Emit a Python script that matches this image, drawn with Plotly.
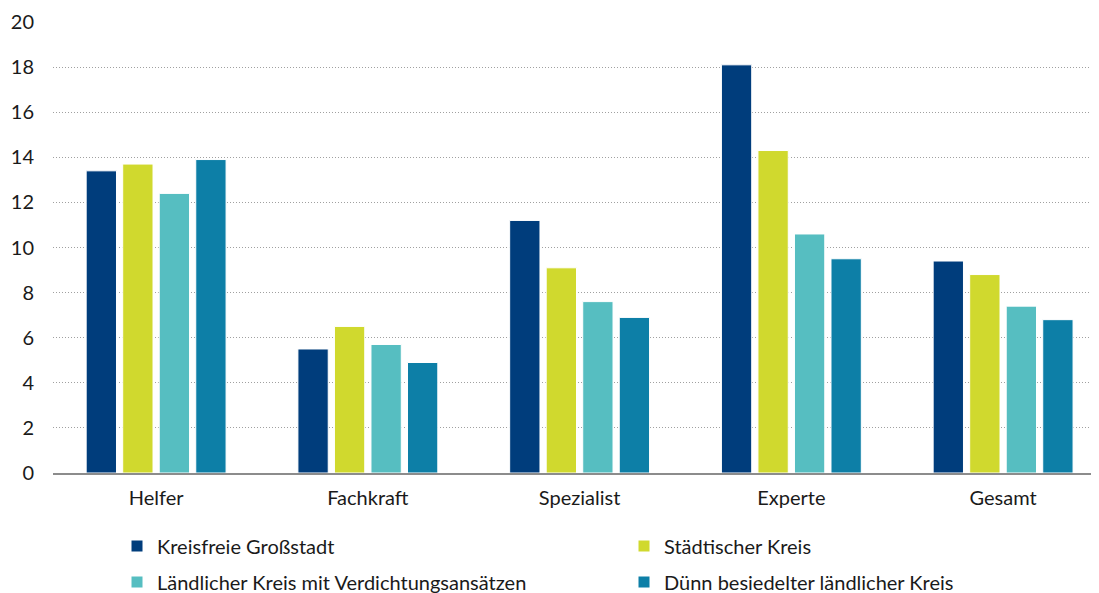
import plotly.graph_objects as go

categories = ["Helfer", "Fachkraft", "Spezialist", "Experte", "Gesamt"]
series_names = [
    "Kreisfreie Großstadt",
    "Städtischer Kreis",
    "Ländlicher Kreis mit Verdichtungsansätzen",
    "Dünn besiedelter ländlicher Kreis",
]
kreisfreie = [13.4, 5.5, 11.2, 18.1, 9.4]
staedtisch = [13.7, 6.5, 9.1, 14.3, 8.8]
laendlich_verd = [12.4, 5.7, 7.6, 10.6, 7.4]
duenn = [13.9, 4.9, 6.9, 9.5, 6.8]
colors = ["#003D7C", "#D0D92E", "#56BEC1", "#0D7FA7"]
y_ticks = [0, 2, 4, 6, 8, 10, 12, 14, 16, 18, 20]

FONT = "Lato"
W, H = 1091, 585
legend_ids = ["legend", "legend", "legend2", "legend2"]

fig = go.Figure()
for name, vals, col, lg in zip(series_names, [kreisfreie, staedtisch, laendlich_verd, duenn], colors, legend_ids):
    fig.add_trace(go.Bar(
        x=categories, y=vals, name=name, legend=lg,
        marker=dict(color=col, line=dict(color="white", width=1)),
    ))

leg_common = dict(
    orientation="h", xref="container", yref="container",
    xanchor="left", yanchor="middle",
    entrywidth=462, entrywidthmode="pixels",
    font=dict(family=FONT, size=20, color="#1a1a1a"),
    itemwidth=30, bgcolor="rgba(0,0,0,0)",
)

fig.update_layout(
    width=W, height=H,
    margin=dict(l=45, r=4, t=14, b=120, autoexpand=False),
    paper_bgcolor="white", plot_bgcolor="white",
    barmode="group", bargap=0.31, bargroupgap=0.17,
    font=dict(family=FONT, size=20, color="#1a1a1a"),
    showlegend=True,
    legend=dict(x=109 / W, y=1 - 538 / H, **leg_common),
    legend2=dict(x=109 / W, y=1 - 574 / H, **leg_common),
    xaxis=dict(
        range=[-0.487, 4.434], showline=True, linecolor="#8c8c8c", linewidth=2,
        showgrid=False, ticks="", ticklabelstandoff=6,
        tickfont=dict(family=FONT, size=20),
    ),
    yaxis=dict(
        range=[0, 20], tickvals=y_ticks, showgrid=True, gridcolor="#a0a0a0",
        griddash="1px,2px", gridwidth=1, zeroline=False, ticks="",
        ticklabelstandoff=18, tickfont=dict(family=FONT, size=20),
    ),
)

fig.write_html("out.html")
